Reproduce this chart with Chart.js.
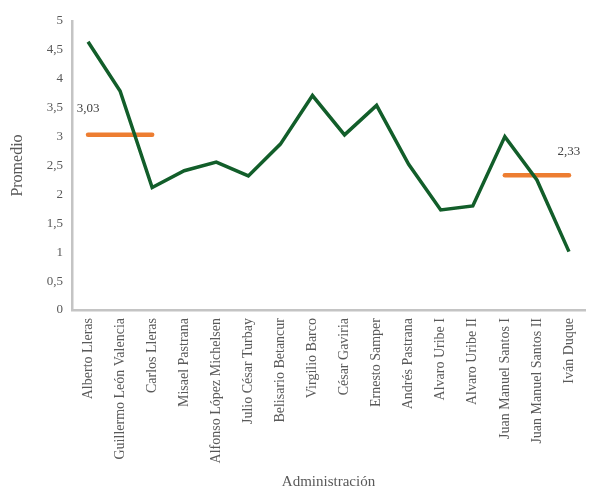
<!DOCTYPE html>
<html>
<head>
<meta charset="utf-8">
<script src="https://cdn.jsdelivr.net/npm/chart.js@4.4.0/dist/chart.umd.min.js"></script>
<style>
    body { margin: 0; background: #fff; }
    .wrap { width: 597px; height: 503px; }
</style>
</head>
<body>
<div class="wrap"><canvas id="grafico"></canvas></div>
<script>
// administraciones y promedio de cada una
const administraciones = [
    'Alberto Lleras', 'Guillermo León Valencia', 'Carlos Lleras', 'Misael Pastrana',
    'Alfonso López Michelsen', 'Julio César Turbay', 'Belisario Betancur', 'Virgilio Barco',
    'César Gaviria', 'Ernesto Samper', 'Andrés Pastrana', 'Alvaro Uribe I',
    'Alvaro Uribe II', 'Juan Manuel Santos I', 'Juan Manuel Santos II', 'Iván Duque'
]
const promedio = [4.64, 3.79, 2.12, 2.41, 2.56, 2.32, 2.87, 3.71, 3.03, 3.54, 2.52, 1.73, 1.80, 3.00, 2.25, 1.01]
// promedios de periodo (lineas naranjas)
const promedioInicio = [3.03, 3.03, 3.03, null, null, null, null, null, null, null, null, null, null, null, null, null]
const promedioFinal = [null, null, null, null, null, null, null, null, null, null, null, null, null, 2.33, 2.33, 2.33]
const etiquetas = { inicio: '3,03', final: '2,33' }

const fuente = "'Liberation Serif', 'DejaVu Serif', serif"
const coma = v => String(v).replace('.', ',')

// etiqueta sobre el primer punto de la primera linea y el ultimo de la segunda
const etiquetaPlugin = {
    id: 'etiquetas',
    afterDatasetsDraw(chart) {
        const ctx = chart.ctx
        ctx.save()
        ctx.font = '13px ' + fuente
        ctx.fillStyle = '#404040'
        ctx.textAlign = 'center'
        ctx.textBaseline = 'middle'
        const m1 = chart.getDatasetMeta(1).data[0]
        ctx.fillText(etiquetas.inicio, m1.x, m1.y - 26)
        const m2 = chart.getDatasetMeta(2).data[15]
        ctx.fillText(etiquetas.final, m2.x, m2.y - 24)
        ctx.restore()
    }
}

let ctx = document.getElementById('grafico')

let chartGraph = new Chart(ctx, {
    type: 'line',
    data: {
        labels: administraciones,
        datasets: [{
            data: promedio,
            borderColor: '#125e2a',
            borderWidth: 3.5,
            pointRadius: 0,
            tension: 0
        }, {
            data: promedioInicio,
            borderColor: '#ed7d31',
            borderWidth: 4.5,
            borderCapStyle: 'round',
            pointRadius: 0
        }, {
            data: promedioFinal,
            borderColor: '#ed7d31',
            borderWidth: 4.5,
            borderCapStyle: 'round',
            pointRadius: 0
        }]
    },
    options: {
        responsive: true,
        maintainAspectRatio: false,
        animation: false,
        layout: { padding: { top: 21, right: 12, left: 0, bottom: 0 } },
        plugins: {
            legend: { display: false },
            tooltip: { enabled: false }
        },
        scales: {
            x: {
                offset: true,
                grid: { display: false, drawTicks: false },
                border: { display: true, color: '#c4c4c4', width: 2.5 },
                ticks: {
                    color: '#595959',
                    font: { family: fuente, size: 14 },
                    minRotation: 90,
                    maxRotation: 90,
                    autoSkip: false,
                    padding: 8
                },
                title: {
                    display: true,
                    text: 'Administración',
                    color: '#595959',
                    font: { family: fuente, size: 15 },
                    padding: { top: 4, bottom: 12 }
                },
                afterFit(scale) { scale.height = 193 }
            },
            y: {
                min: 0,
                max: 5,
                grid: { display: false, drawTicks: false },
                border: { display: true, color: '#c4c4c4', width: 2.5 },
                ticks: {
                    stepSize: 0.5,
                    color: '#595959',
                    font: { family: fuente, size: 13 },
                    padding: 9,
                    callback: v => coma(v)
                },
                title: {
                    display: true,
                    text: 'Promedio',
                    color: '#595959',
                    font: { family: fuente, size: 16 },
                    padding: { top: 8, bottom: 0 }
                },
                afterFit(scale) { scale.width = 72 }
            }
        }
    },
    plugins: [etiquetaPlugin]
});
</script>
</body>
</html>
